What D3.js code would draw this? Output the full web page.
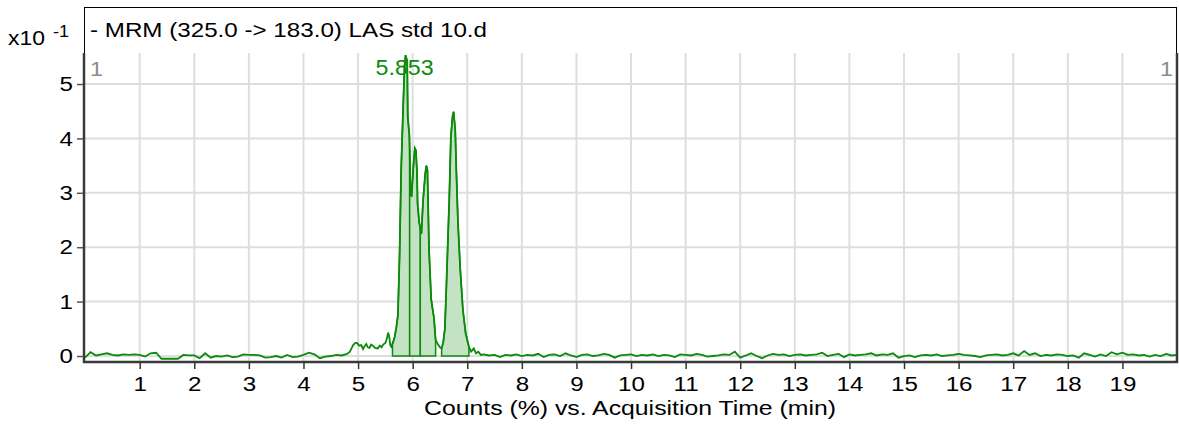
<!DOCTYPE html>
<html>
<head>
<meta charset="utf-8">
<style>
body { margin: 0; background: #fff; }
text { font-family: "Liberation Sans", Arial, sans-serif; }
</style>
</head>
<body>
<script src="https://d3js.org/d3.v7.min.js"></script>
<div id="my_dataviz"></div>
<script>

// chromatogram data (counts x10^-1)
var baseStep = 0.1;
// t = 0.0 .. 4.8
var baseStart1 = 0.0;
var baseline1 = [-0.03, 0.07, 0.01, 0.03, 0.05, 0.02, 0.01, 0.03, 0.02, 0.03,
                 0.02, -0.01, 0.05, 0.06, -0.05, -0.05, -0.05, -0.05, 0.02, 0.01,
                 0.01, -0.04, 0.05, -0.03, 0.00, -0.01, 0.01, -0.02, -0.01, 0.03,
                 0.02, 0.02, 0.01, -0.03, -0.02, 0.00, -0.03, 0.02, -0.02, -0.01,
                 0.02, 0.06, 0.03, -0.04, -0.01, 0.00, 0.02, 0.01, 0.04];
// t = 7.3 .. 20.0
var baseStart2 = 7.3;
var baseline2 = [0.03, 0.01, 0.02, -0.02, 0.02, 0.01, 0.03, 0.00, 0.02, 0.01,
                 0.04, -0.02, 0.02, 0.03, 0.00, 0.05, 0.01, -0.02, 0.02, 0.03,
                 0.00, 0.01, 0.04, 0.02, -0.03, 0.01, 0.02, 0.03, 0.00, 0.02,
                 0.01, 0.03, 0.00, 0.02, 0.01, -0.02, 0.03, 0.02, 0.01, 0.04,
                 0.02, -0.01, 0.00, 0.01, 0.03, 0.02, 0.08, -0.03, 0.01, 0.05,
                 0.00, -0.04, 0.01, 0.04, 0.02, 0.03, 0.00, 0.02, 0.03, 0.01,
                 0.02, 0.03, 0.06, 0.00, 0.02, 0.04, -0.02, 0.03, 0.01, 0.02,
                 0.03, 0.05, 0.01, 0.03, 0.02, 0.05, -0.03, 0.00, 0.01, -0.02,
                 0.01, 0.02, 0.01, 0.03, 0.00, 0.01, 0.02, 0.04, 0.02, 0.01,
                 0.00, -0.02, 0.01, 0.02, 0.03, 0.01, 0.02, 0.05, 0.01, 0.09,
                 0.02, 0.05, 0.00, 0.02, 0.01, 0.03, 0.02, 0.00, 0.01, -0.03,
                 0.05, 0.02, -0.01, 0.03, 0.00, 0.07, 0.03, 0.06, 0.02, 0.03,
                 0.01, 0.02, -0.01, 0.02, 0.00, 0.04, 0.01, 0.02];
// peak region
var peakT = [4.85, 4.88, 4.91, 4.95, 4.98, 5.02, 5.06, 5.09, 5.12, 5.15, 5.18, 5.21,
             5.24, 5.27, 5.31, 5.36, 5.40, 5.43, 5.46, 5.50, 5.53, 5.55, 5.57, 5.59,
             5.61, 5.64, 5.67, 5.70, 5.73, 5.76, 5.79, 5.82, 5.85, 5.87, 5.90, 5.91,
             5.94, 5.96, 5.98, 6.01, 6.04, 6.06, 6.08, 6.09, 6.12, 6.16, 6.19, 6.23,
             6.25, 6.27, 6.30, 6.34, 6.39, 6.42, 6.46, 6.50, 6.53, 6.56, 6.59, 6.62,
             6.67, 6.70, 6.73, 6.75, 6.78, 6.80, 6.83, 6.87, 6.92, 6.97, 7.03, 7.07,
             7.12, 7.16, 7.20, 7.25];
var peakV = [0.08, 0.14, 0.20, 0.24, 0.24, 0.19, 0.20, 0.13, 0.18, 0.22, 0.16, 0.15,
             0.21, 0.19, 0.15, 0.14, 0.19, 0.16, 0.21, 0.24, 0.33, 0.43, 0.36, 0.20,
             0.17, 0.25, 0.35, 0.52, 0.75, 1.85, 3.45, 4.40, 5.30, 5.53, 5.42, 4.40,
             4.05, 3.00, 2.93, 3.45, 3.82, 3.78, 3.36, 2.80, 2.45, 2.25, 2.85, 3.35,
             3.50, 3.42, 1.95, 1.03, 0.70, 0.30, 0.22, 0.16, 0.14, 0.25, 0.50, 1.35,
             2.87, 4.03, 4.40, 4.49, 4.15, 3.40, 2.45, 1.62, 0.85, 0.42, 0.17, 0.08,
             0.14, 0.05, 0.08, 0.02];
// integrated regions (min)
var regionEdges = [[5.63, 5.945], [5.945, 6.14], [6.14, 6.42], [6.53, 7.03]];
var xTicks = [1, 2, 3, 4, 5, 6, 7, 8, 9, 10, 11, 12, 13, 14, 15, 16, 17, 18, 19];
var yTicks = [0, 1, 2, 3, 4, 5];
var peakLabel = {t: 5.853, text: "5.853"};

var width = 1179, height = 426;
var plotLeft = 84, plotRight = 1177, plotTop = 53, plotBottom = 362;
var stretch = 1.15; // text in the source is drawn a bit wide

var svg = d3.select("#my_dataviz")
  .append("svg")
    .attr("width", width)
    .attr("height", height);

var x = d3.scaleLinear().domain([-0.02, 20]).range([plotLeft, plotRight]);
var y = d3.scaleLinear().domain([-0.11, 5.57]).range([plotBottom, plotTop]);

// build points
var data = [];
baseline1.forEach(function(v, i) { data.push({t: baseStart1 + i * baseStep, v: v}); });
peakT.forEach(function(t, i) { data.push({t: t, v: peakV[i]}); });
baseline2.forEach(function(v, i) { data.push({t: baseStart2 + i * baseStep, v: v}); });

// grid
svg.append("g").selectAll("line")
  .data(xTicks)
  .enter().append("line")
    .attr("x1", function(d) { return x(d); })
    .attr("x2", function(d) { return x(d); })
    .attr("y1", plotTop)
    .attr("y2", plotBottom)
    .attr("stroke", "#dedede")
    .attr("stroke-width", 2);
svg.append("g").selectAll("line")
  .data(yTicks)
  .enter().append("line")
    .attr("x1", plotLeft)
    .attr("x2", plotRight)
    .attr("y1", function(d) { return y(d); })
    .attr("y2", function(d) { return y(d); })
    .attr("stroke", "#dedede")
    .attr("stroke-width", 2);

// header box
svg.append("rect")
  .attr("x", plotLeft + 0.5)
  .attr("y", 7.5)
  .attr("width", plotRight - plotLeft - 1)
  .attr("height", plotBottom - 7.5)
  .attr("fill", "none")
  .attr("stroke", "#000")
  .attr("stroke-width", 1);

// integrated areas
var bis = d3.bisector(function(d) { return d.t; }).left;
function valueAt(t) {
  var i = bis(data, t);
  var a = data[i - 1], b = data[i];
  return a.v + (b.v - a.v) * (t - a.t) / (b.t - a.t);
}
regionEdges.forEach(function(r) {
  var pts = [{t: r[0], v: 0}, {t: r[0], v: valueAt(r[0])}];
  data.forEach(function(d) { if (d.t > r[0] && d.t < r[1]) pts.push(d); });
  pts.push({t: r[1], v: valueAt(r[1])});
  pts.push({t: r[1], v: 0});
  svg.append("path")
    .datum(pts)
    .attr("d", d3.line().x(function(d) { return x(d.t); }).y(function(d) { return y(d.v); }).curve(d3.curveLinearClosed))
    .attr("fill", "#c4e2c4")
    .attr("stroke", "#0b8a0b")
    .attr("stroke-width", 1.5);
});

// trace
svg.append("path")
  .datum(data)
  .attr("d", d3.line().x(function(d) { return x(d.t); }).y(function(d) { return y(d.v); }))
  .attr("fill", "none")
  .attr("stroke", "#0b8a0b")
  .attr("stroke-width", 1.8);

// plot frame
svg.append("path")
  .attr("d", "M" + plotLeft + "," + plotTop + "V" + plotBottom + "H" + plotRight + "V" + plotTop)
  .attr("fill", "none")
  .attr("stroke", "#3a3a3a")
  .attr("stroke-width", 2.5);

// x axis
var xAxis = svg.append("g")
  .attr("transform", "translate(0," + (plotBottom + 1) + ")")
  .call(d3.axisBottom(x).tickValues(xTicks).tickSize(6).tickPadding(7).tickFormat(d3.format("d")));
xAxis.select(".domain").remove();
xAxis.selectAll("line").attr("stroke", "#333").attr("stroke-width", 1.5);
xAxis.selectAll("text").attr("font-size", 21).attr("fill", "#000")
  .attr("font-family", "Liberation Sans, Arial, sans-serif")
  .attr("transform", "scale(" + stretch + ",1)");

// y axis
var yAxis = svg.append("g")
  .attr("transform", "translate(" + (plotLeft - 1) + ",0)")
  .call(d3.axisLeft(y).tickValues(yTicks).tickSize(6).tickPadding(5).tickFormat(d3.format("d")));
yAxis.select(".domain").remove();
yAxis.selectAll("line").attr("stroke", "#555").attr("stroke-width", 1.5);
yAxis.selectAll("text").attr("font-size", 21).attr("fill", "#000")
  .attr("font-family", "Liberation Sans, Arial, sans-serif")
  .attr("x", -10 / stretch)
  .attr("transform", "scale(" + stretch + ",1)");

// texts
function label(px, py, size, str, len) {
  var t = svg.append("text")
    .attr("x", px).attr("y", py)
    .attr("font-size", size)
    .text(str);
  if (len) t.attr("textLength", len).attr("lengthAdjust", "spacingAndGlyphs");
  return t;
}
label(90, 37, 21, "- MRM (325.0 -> 183.0) LAS std 10.d", 397);
label(8, 45, 21, "x10", 37);
label(53, 37, 16, "-1", 16);
label(90, 76, 21, "1", 13).attr("fill", "#8c8c8c");
label(1160, 76, 21, "1", 13).attr("fill", "#8c8c8c");
label(x(peakLabel.t) - 29, 75, 22, peakLabel.text, 58).attr("fill", "#0b8a0b");
label(424, 415, 21, "Counts (%) vs. Acquisition Time (min)", 412);

</script>
</body>
</html>
